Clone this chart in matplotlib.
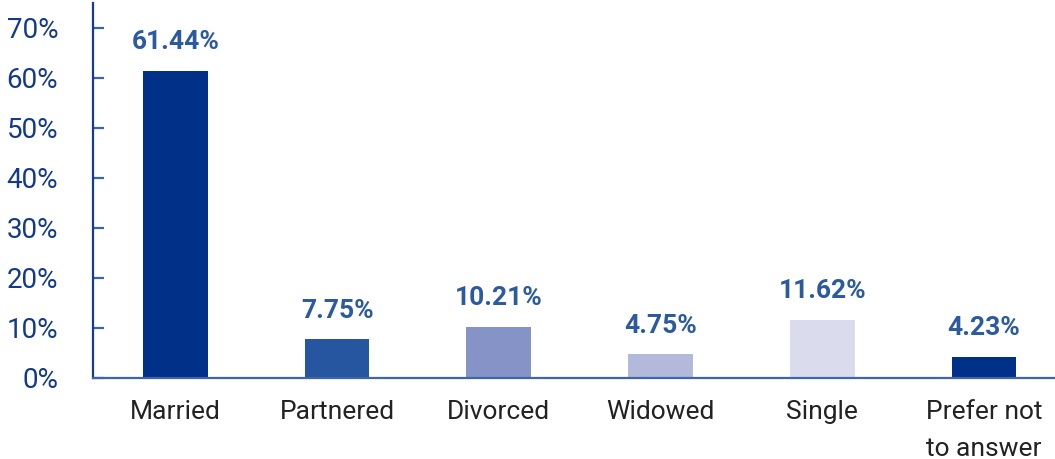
import matplotlib
matplotlib.use("Agg")
import matplotlib.pyplot as plt

plt.rcParams['font.family'] = ['Roboto', 'DejaVu Sans']

categories = ["Married", "Partnered", "Divorced", "Widowed", "Single", "Prefer not\nto answer"]
values = [61.44, 7.75, 10.21, 4.75, 11.62, 4.23]
bar_colors = ["#003087", "#2656a0", "#8593c6", "#b3b9da", "#dadcee", "#003087"]
yticks = [0, 10, 20, 30, 40, 50, 60, 70]

left_spine_color = "#123c8c"
bottom_spine_color = "#3f66ad"
tick_mark_color = "#3a64ad"
label_color = "#2b5aa0"
tick_color = "#133a8a"

fig = plt.figure(figsize=(10.55, 4.59), dpi=100)
ax = fig.add_axes([93 / 1055, 81 / 459, 1 - 93 / 1055, (378 - 3) / 459])

x = list(range(len(categories)))
ax.bar(x, values, width=0.4, color=bar_colors, zorder=2)

for xi, v in zip(x, values):
    ax.annotate(f"{v:.2f}%", (xi, v), xytext=(0, 12), textcoords="offset points",
                ha="center", va="bottom", fontsize=19, fontweight="bold", color=label_color)

ax.set_xlim(-0.51, 5.44)
ax.set_ylim(0, 75)
ax.set_yticks(yticks)
ax.set_yticklabels([f"{t}%" for t in yticks])
ax.set_xticks(x)
ax.set_xticklabels(categories, fontsize=19, color="#222222", linespacing=1.65, va="top")

ax.tick_params(axis="y", direction="in", length=8, width=1.6, color=tick_mark_color,
               labelsize=20, labelcolor=tick_color, pad=25)
ax.tick_params(axis="x", length=0, pad=16)

for side in ("top", "right"):
    ax.spines[side].set_visible(False)
ax.spines["left"].set_color(left_spine_color)
ax.spines["left"].set_linewidth(1.6)
ax.spines["bottom"].set_color(bottom_spine_color)
ax.spines["bottom"].set_linewidth(1.6)

fig.savefig("out.png", dpi=100)
